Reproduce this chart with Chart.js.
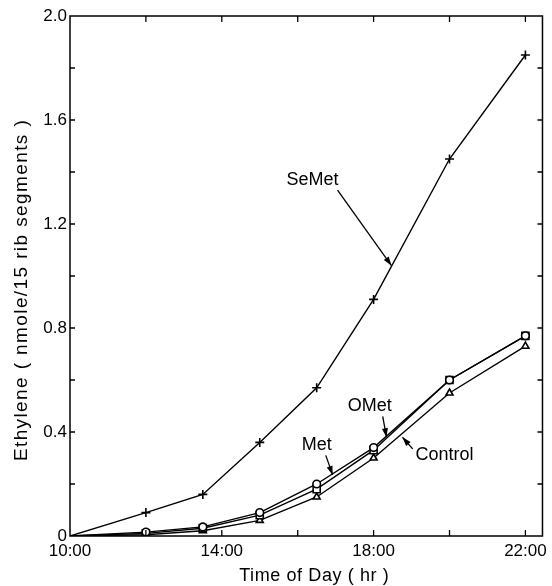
<!DOCTYPE html>
<html><head><meta charset="utf-8">
<script src="https://cdn.jsdelivr.net/npm/chart.js@4/dist/chart.umd.min.js"></script>
<style>html,body{margin:0;padding:0;background:#fff}#wrap{width:552px;height:586px}</style>
</head><body><div id="wrap"><canvas id="c" width="552" height="586"></canvas></div>
<script>
// ---- data (hours of day, ethylene nmole / 15 rib segments) ----
const hours   = [10, 12, 13.5, 15, 16.5, 18, 20, 22];
const seMet   = [0, 0.09, 0.16, 0.36, 0.57, 0.91, 1.45, 1.85];
const met     = [0, 0.015, 0.035, 0.09, 0.20, 0.34, 0.60, 0.77];
const oMet    = [0, 0.010, 0.030, 0.08, 0.18, 0.33, 0.60, 0.77];
const control = [0, 0.005, 0.020, 0.06, 0.15, 0.30, 0.55, 0.73];
const xTickValues = [10, 12, 14, 16, 18, 20, 22];
const xTickLabels = ['10:00', '', '14:00', '', '18:00', '', '22:00'];
const yTickValues = [0, 0.2, 0.4, 0.6, 0.8, 1.0, 1.2, 1.4, 1.6, 1.8, 2.0];
const yTickLabels = ['0', '', '0.4', '', '0.8', '', '1.2', '', '1.6', '', '2.0'];
const xTitle = 'Time of Day ( hr )';
const yTitle = 'Ethylene ( nmole/15 rib segments )';
// labels with arrows, in data coordinates [hour, value]
const noteTexts = ['SeMet', 'Met', 'OMet', 'Control'];
const noteAt    = [[16.39, 1.37], [16.50, 0.35], [17.90, 0.50], [19.87, 0.31]];
const noteFrom  = [[17.05, 1.33], [16.74, 0.31], [18.24, 0.46], [19.03, 0.335]];
const noteTo    = [[18.47, 1.04], [16.92, 0.235], [18.34, 0.38], [18.76, 0.38]];

const FONT = "'Liberation Sans', Arial, sans-serif";
const pts = arr => hours.map((h, i) => ({x: h, y: arr[i]}));
const radius = r => (ctx => ctx.dataIndex === 0 ? 0 : r);

function ds(label, arr, style, r) {
  return {
    label, data: pts(arr), showLine: true, borderColor: '#000', borderWidth: 1.4,
    pointStyle: style, pointRadius: radius(r), pointBorderColor: '#000',
    pointBackgroundColor: '#fff', pointBorderWidth: 1.6, tension: 0
  };
}

const decor = {
  id: 'decor',
  afterDatasetsDraw(chart) {
    const {ctx, chartArea: a, scales: {x, y}} = chart;
    ctx.save();
    ctx.strokeStyle = '#000';
    ctx.fillStyle = '#000';
    ctx.lineWidth = 1.5;
    ctx.strokeRect(a.left, a.top, a.right - a.left, a.bottom - a.top);
    ctx.lineWidth = 1.3;
    ctx.beginPath();
    xTickValues.forEach(v => {
      const px = x.getPixelForValue(v);
      if (Math.abs(px - a.left) < 1) return;
      ctx.moveTo(px, a.bottom); ctx.lineTo(px, a.bottom - 6);
      ctx.moveTo(px, a.top); ctx.lineTo(px, a.top + 6);
    });
    yTickValues.forEach(v => {
      const py = y.getPixelForValue(v);
      if (Math.abs(py - a.bottom) < 1 || Math.abs(py - a.top) < 1) return;
      ctx.moveTo(a.left, py); ctx.lineTo(a.left + 5, py);
      ctx.moveTo(a.right, py); ctx.lineTo(a.right - 5, py);
    });
    ctx.stroke();

    // axis titles
    ctx.textAlign = 'center';
    ctx.textBaseline = 'middle';
    ctx.font = '18px ' + FONT;
    if ('letterSpacing' in ctx) ctx.letterSpacing = '0.6px';
    ctx.fillText(xTitle, (a.left + a.right) / 2 + 8, 576);
    ctx.save();
    ctx.font = '19px ' + FONT;
    if ('letterSpacing' in ctx) ctx.letterSpacing = '1.4px';
    ctx.translate(22, (a.top + a.bottom) / 2 + 14);
    ctx.rotate(-Math.PI / 2);
    ctx.fillText(yTitle, 0, 0);
    ctx.restore();
    if ('letterSpacing' in ctx) ctx.letterSpacing = '0px';

    // annotations
    ctx.font = '18px ' + FONT;
    noteTexts.forEach((t, i) => {
      const tx = x.getPixelForValue(noteAt[i][0]), ty = y.getPixelForValue(noteAt[i][1]);
      ctx.fillText(t, tx, ty);
      const x1 = x.getPixelForValue(noteFrom[i][0]), y1 = y.getPixelForValue(noteFrom[i][1]);
      const x2 = x.getPixelForValue(noteTo[i][0]), y2 = y.getPixelForValue(noteTo[i][1]);
      ctx.lineWidth = 1.3;
      ctx.beginPath(); ctx.moveTo(x1, y1); ctx.lineTo(x2, y2); ctx.stroke();
      const ang = Math.atan2(y2 - y1, x2 - x1), L = 9, W = 3;
      ctx.beginPath();
      ctx.moveTo(x2, y2);
      ctx.lineTo(x2 - L * Math.cos(ang) + W * Math.sin(ang), y2 - L * Math.sin(ang) - W * Math.cos(ang));
      ctx.lineTo(x2 - L * Math.cos(ang) - W * Math.sin(ang), y2 - L * Math.sin(ang) + W * Math.cos(ang));
      ctx.closePath(); ctx.fill();
    });
    ctx.restore();
  }
};

new Chart(document.getElementById('c'), {
  type: 'scatter',
  data: {
    datasets: [
      ds('Met', met, 'circle', 3.8),
      ds('OMet', oMet, 'rect', 5),
      ds('Control', control, 'triangle', 4),
      ds('SeMet', seMet, 'cross', 4.5)
    ]
  },
  options: {
    responsive: false, animation: false,
    layout: {padding: {top: 16, right: 9, left: 0, bottom: 0}},
    plugins: {legend: {display: false}, tooltip: {enabled: false}},
    scales: {
      x: {
        type: 'linear', min: 10, max: 22.45,
        grid: {display: false, drawTicks: false}, border: {display: false},
        afterBuildTicks: s => { s.ticks = xTickValues.map(v => ({value: v})); },
        afterFit: s => { s.height = 50; },
        ticks: {
          color: '#000', font: {size: 17, family: FONT}, padding: 5, maxRotation: 0, autoSkip: false,
          callback: v => { const i = xTickValues.indexOf(v); return i < 0 ? '' : xTickLabels[i]; }
        }
      },
      y: {
        type: 'linear', min: 0, max: 2,
        grid: {display: false, drawTicks: false}, border: {display: false},
        afterBuildTicks: s => { s.ticks = yTickValues.map(v => ({value: v})); },
        afterFit: s => { s.width = 70; },
        ticks: {
          color: '#000', font: {size: 17, family: FONT}, padding: 3, autoSkip: false,
          callback: v => { const i = yTickValues.findIndex(t => Math.abs(t - v) < 1e-6); return i < 0 ? '' : yTickLabels[i]; }
        }
      }
    }
  },
  plugins: [decor]
});
</script></body></html>
